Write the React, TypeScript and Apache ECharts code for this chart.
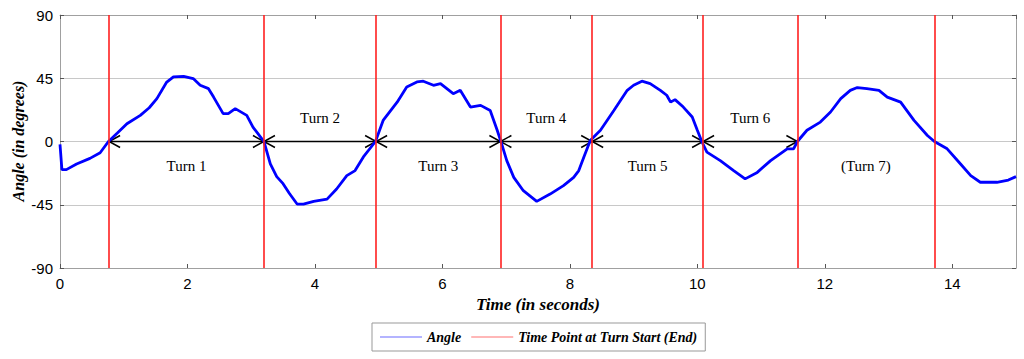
import React, { useEffect, useRef } from 'react';
import * as echarts from 'echarts';

// Angle curve (time in seconds, angle in degrees)
const angleTime = [
  0, 0.03, 0.1, 0.26, 0.47, 0.63, 0.76, 0.9, 1.05, 1.26, 1.4, 1.52, 1.67, 1.78, 1.94, 2.09, 2.2, 2.33, 2.41, 2.56,
  2.64, 2.75, 2.93, 3.03, 3.1, 3.2, 3.3, 3.4, 3.5, 3.6, 3.72, 3.82, 3.98, 4.19, 4.34, 4.5, 4.63, 4.76, 4.95, 5.07,
  5.29, 5.44, 5.6, 5.7, 5.86, 5.97, 6.17, 6.28, 6.44, 6.6, 6.75, 6.86, 6.93, 7.01, 7.12, 7.27, 7.48, 7.69, 7.9, 8.06,
  8.14, 8.22, 8.32, 8.48, 8.69, 8.9, 9.0, 9.13, 9.26, 9.42, 9.52, 9.58, 9.65, 9.78, 9.92, 10.0, 10.07, 10.15, 10.36,
  10.57, 10.75, 10.94, 11.15, 11.41, 11.51, 11.57, 11.72, 11.93, 12.09, 12.25, 12.4, 12.51, 12.66, 12.85, 12.98,
  13.19, 13.4, 13.61, 13.72, 13.92, 14.13, 14.29, 14.44, 14.7, 14.88, 15,
];
const angleValue = [
  -2, -20, -20, -16, -12, -8, 0, 6, 12.6, 18.6, 24, 30.5, 42, 46, 46.4, 44.8, 40, 37.6, 31.6, 19.8,
  19.8, 23.4, 18.6, 10, 6, 0, -16, -25, -30, -37, -44.5, -44.5, -42.6, -41, -33.8, -24.3, -20.7, -11, 0, 15,
  28, 38.8, 42.4, 42.9, 40, 41.2, 34, 36.4, 24.5, 25.7, 22, 8, -1.7, -13.6, -25.5, -35, -42.6, -37.4, -31.4, -25.5,
  -20.7, -11, 0.7, 8, 22, 36.4, 40, 42.9, 41.2, 36.4, 32.9, 28, 29.8, 24.5, 17.4, 8, 0, -7.6, -13.6,
  -20.7, -26.6, -22, -13.6, -5.2, -5.2, 0, 8, 13.8, 21, 30.5, 36.4, 38.4, 37.6, 36.4, 31.6,
  28, 15, 4.3, 0, -5.2, -16, -24.3, -29, -29, -27.4, -25,
];

// Time points at turn start (end)
const turnTimes = [0.77, 3.2, 4.96, 6.91, 8.35, 10.09, 11.57, 13.72];
const turnLabels = ['Turn 1', 'Turn 2', 'Turn 3', 'Turn 4', 'Turn 5', 'Turn 6', '(Turn 7)'];
const turnLabelSide = [-1, 1, -1, 1, -1, 1, -1]; // 1 = above, -1 = below
const arrowCount = 6;

const yMin = -90;
const yMax = 90;
const yStep = 45;
const xMin = 0;
const xMax = 15;
const xStep = 2;
const yAxisTitle = 'Angle (in degrees)';
const xAxisTitle = 'Time (in seconds)';

const serif = "'Liberation Serif', 'Times New Roman', serif";
const sans = "'Liberation Sans', Arial, sans-serif";

export default function App() {
  const ref = useRef<HTMLDivElement>(null);

  useEffect(() => {
    const chart = echarts.init(ref.current!, null, { renderer: 'svg' });

    const angleData = angleTime.map((t, i) => [t, angleValue[i]]);
    const arrowData = [];
    for (let i = 0; i < arrowCount; i++) arrowData.push([turnTimes[i], turnTimes[i + 1], 0]);
    const labelData = turnLabels.map((_, i) => [(turnTimes[i] + turnTimes[i + 1]) / 2, 0, turnLabelSide[i], i]);

    const gridColor = '#c8c8c8';
    const axisColor = '#a0a0a0';
    const legendText = { fontFamily: serif, fontStyle: 'italic', fontWeight: 'bold', fontSize: 14, color: '#000' };

    chart.setOption({
      animation: false,
      backgroundColor: '#fff',
      grid: { left: 60, right: 8, top: 15, bottom: 91, outerBoundsMode: 'none', containLabel: false },
      graphic: [
        {
          type: 'text',
          x: 18,
          y: 141,
          rotation: Math.PI / 2,
          style: {
            text: yAxisTitle,
            align: 'center',
            verticalAlign: 'middle',
            fontFamily: serif,
            fontStyle: 'italic',
            fontWeight: 'bold',
            fontSize: 16,
            fill: '#000',
          },
        },
      ],
      legend: {
        data: [
          { name: 'Angle', icon: 'rect', itemStyle: { color: '#6a6aff' } },
          { name: 'Time Point at Turn Start (End)', icon: 'rect', itemStyle: { color: '#ff7070' } },
        ],
        left: 372,
        top: 323,
        padding: [7, 8],
        itemGap: 10,
        itemWidth: 42,
        itemHeight: 1.2,
        borderColor: '#999',
        borderWidth: 1,
        textStyle: legendText,
      },
      xAxis: [
        {
          type: 'value',
          min: xMin,
          max: xMax,
          interval: xStep,
          name: xAxisTitle,
          nameLocation: 'middle',
          nameGap: 28,
          nameTextStyle: { fontFamily: serif, fontStyle: 'italic', fontWeight: 'bold', fontSize: 17, color: '#000' },
          axisLine: { show: true, onZero: false, lineStyle: { color: axisColor } },
          axisTick: { show: true, inside: true, length: 4, lineStyle: { color: '#555' } },
          axisLabel: { showMaxLabel: false, fontFamily: sans, fontSize: 15, color: '#000', margin: 8 },
          splitLine: { show: false },
        },
        {
          type: 'value',
          position: 'top',
          min: xMin,
          max: xMax,
          interval: xStep,
          axisLine: { show: true, onZero: false, lineStyle: { color: axisColor } },
          axisTick: { show: true, inside: true, length: 4, lineStyle: { color: '#555' } },
          axisLabel: { show: false },
          splitLine: { show: false },
        },
      ],
      yAxis: [
        {
          type: 'value',
          min: yMin,
          max: yMax,
          interval: yStep,
          axisLine: { show: true, onZero: false, lineStyle: { color: axisColor } },
          axisTick: { show: true, inside: true, length: 4, lineStyle: { color: '#555' } },
          axisLabel: { fontFamily: sans, fontSize: 15, color: '#000', margin: 7 },
          splitLine: { show: true, lineStyle: { color: gridColor, width: 1 } },
        },
        {
          type: 'value',
          position: 'right',
          min: yMin,
          max: yMax,
          interval: yStep,
          axisLine: { show: true, onZero: false, lineStyle: { color: axisColor } },
          axisTick: { show: true, inside: true, length: 4, lineStyle: { color: '#555' } },
          axisLabel: { show: false },
          splitLine: { show: false },
        },
      ],
      series: [
        {
          name: 'Time Point at Turn Start (End)',
          type: 'line',
          data: [],
          symbol: 'none',
          lineStyle: { color: '#ff0000', width: 1 },
          itemStyle: { color: '#ff0000' },
          z: 1,
          markLine: {
            silent: true,
            symbol: ['none', 'none'],
            label: { show: false },
            lineStyle: { color: '#ff2020', width: 1.6, type: 'solid' },
            data: turnTimes.map((t) => ({ xAxis: t })),
          },
        },
        {
          name: 'arrows',
          type: 'custom',
          data: arrowData,
          z: 2,
          encode: { x: [0, 1], y: 2 },
          renderItem: (params: any, api: any) => {
            const p1 = api.coord([api.value(0), api.value(2)]);
            const p2 = api.coord([api.value(1), api.value(2)]);
            const y = p1[1];
            const s = { stroke: '#000', fill: 'none', lineWidth: 1.5 };
            return {
              type: 'group',
              children: [
                { type: 'line', shape: { x1: p1[0], y1: y, x2: p2[0], y2: y }, style: s },
                { type: 'polyline', shape: { points: [[p1[0] + 11, y - 6], [p1[0], y], [p1[0] + 11, y + 6]] }, style: s },
                { type: 'polyline', shape: { points: [[p2[0] - 11, y - 6], [p2[0], y], [p2[0] - 11, y + 6]] }, style: s },
              ],
            };
          },
        },
        {
          name: 'turnLabels',
          type: 'custom',
          data: labelData,
          z: 2,
          encode: { x: 0, y: 1 },
          renderItem: (params: any, api: any) => {
            const p = api.coord([api.value(0), api.value(1)]);
            const side = api.value(2);
            const idx = api.value(3);
            return {
              type: 'text',
              style: {
                text: turnLabels[idx],
                x: p[0],
                y: p[1] - side * 24,
                align: 'center',
                verticalAlign: 'middle',
                fontFamily: serif,
                fontSize: 15,
                fill: '#000',
              },
            };
          },
        },
        {
          name: 'Angle',
          type: 'line',
          data: angleData,
          symbol: 'none',
          z: 3,
          lineStyle: { color: '#0000ff', width: 2.8 },
          itemStyle: { color: '#0000ff' },
        },
      ],
    });

    return () => chart.dispose();
  }, []);

  return <div ref={ref} style={{ position: 'fixed', left: 0, top: 0, width: 1024, height: 359 }} />;
}
